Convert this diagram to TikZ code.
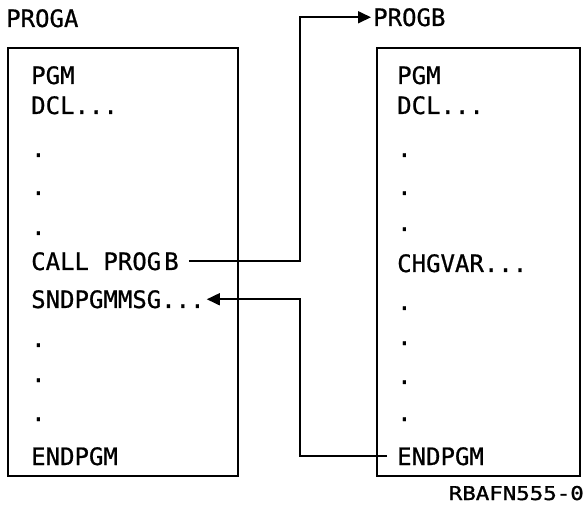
\documentclass[tikz,border=0pt]{standalone}
\usepackage{fontspec}
\newfontfamily\pixfont[FakeBold=0.8]{DejaVu Sans Mono}
\newfontfamily\idfont[FakeBold=1.2]{DejaVu Sans Mono}
\usetikzlibrary{arrows.meta,calc}
\tikzset{
  txt/.style={anchor=base west,inner sep=0pt,font=\pixfont\fontsize{24}{24}\selectfont},
  progbox/.style={draw,line width=1.8pt},
  conn/.style={line width=1.7pt},
  arr/.style={conn,-{Triangle[length=13pt,width=12pt]}},
}
\begin{document}
\begin{tikzpicture}[x=1pt,y=-1pt]
\useasboundingbox (0,0) rectangle (587,505);
% titles
\node[txt] (progA) at (6,27) {PROGA};
\node[txt] (progB) at (373,26) {PROGB};
% boxes
\draw[progbox] (8,48) rectangle (238,476);
\draw[progbox] (377,48) rectangle (580,476);
% left program
\node[txt] (lpgm) at (31,84) {PGM};
\node[txt] (ldcl) at (31,114) {DCL...};
\node[txt] (ld1) at (31,157) {.};
\node[txt] (ld2) at (31,195) {.};
\node[txt] (ld3) at (31,235) {.};
\node[txt] (call) at (31,270) {CALL PROG\kern3pt B};
\node[txt] (snd) at (31,308) {SNDPGMMSG...};
\node[txt] (ld4) at (31,347) {.};
\node[txt] (ld5) at (31,382) {.};
\node[txt] (ld6) at (31,421) {.};
\node[txt] (lend) at (31,465) {ENDPGM};
% right program
\node[txt] (rpgm) at (397,84) {PGM};
\node[txt] (rdcl) at (397,114) {DCL...};
\node[txt] (rd1) at (397,157) {.};
\node[txt] (rd2) at (397,195) {.};
\node[txt] (rd3) at (397,231) {.};
\node[txt] (chg) at (397,272) {CHGVAR...};
\node[txt] (rd4) at (397,310) {.};
\node[txt] (rd5) at (397,345) {.};
\node[txt] (rd6) at (397,384) {.};
\node[txt] (rd7) at (397,421) {.};
\node[txt] (rend) at (397,465) {ENDPGM};
% figure id
\node[anchor=base east,inner sep=0pt,font=\idfont\fontsize{19}{19}\selectfont] (fid) at (584,500) {\scalebox{1.18}[1]{RBAFN555-0}};
% connectors
\coordinate (v1) at (300,0);
\draw[arr] ([xshift=10pt]call.east) -| (progB.west -| v1) -- ([xshift=-2pt]progB.west);
\draw[arr] ([xshift=-10pt]rend.west) -| (snd.east -| v1) -- ([xshift=2pt]snd.east);
\end{tikzpicture}
\end{document}
